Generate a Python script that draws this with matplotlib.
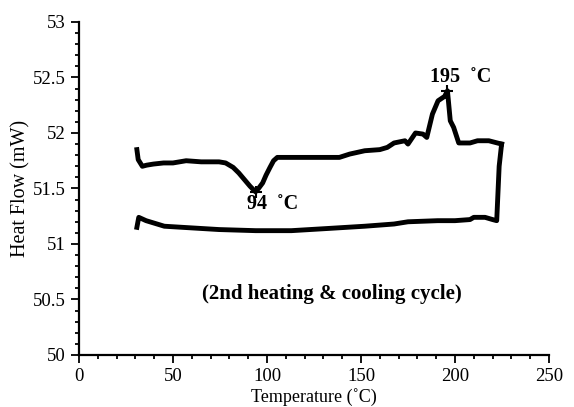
import matplotlib
matplotlib.use('Agg')
import matplotlib.pyplot as plt
from matplotlib.ticker import MultipleLocator

plt.rcParams['font.family'] = ['Liberation Serif', 'DejaVu Serif']

# ---- 2nd heating scan ----
heat_T = [30.8, 31.5, 33.7, 36.0, 39.6, 45.0, 50.0, 57.0, 65.0, 74.5, 78.0, 82.0,
          85.0, 88.0, 91.0, 93.9, 95.5, 97.7, 99.5, 101.6, 103.5, 105.5, 115.0,
          125.0, 138.5, 144.0, 152.0, 160.0, 164.0, 167.6, 173.4, 175.0, 179.0,
          183.0, 185.0, 188.0, 191.0, 194.5, 196.0, 197.5, 199.3, 202.0, 208.0,
          212.0, 218.0, 224.8]
heat_Q = [51.85, 51.76, 51.70, 51.71, 51.72, 51.73, 51.73, 51.75, 51.74, 51.74, 51.73, 51.69,
          51.64, 51.58, 51.52, 51.47, 51.50, 51.55, 51.62, 51.69, 51.75, 51.78, 51.78,
          51.78, 51.78, 51.81, 51.84, 51.85, 51.87, 51.91, 51.93, 51.90, 52.00,
          51.99, 51.96, 52.17, 52.29, 52.33, 52.38, 52.11, 52.05, 51.91, 51.91,
          51.93, 51.93, 51.90]

# ---- cooling scan ----
cool_T = [224.8, 223.5, 222.2, 220.0, 216.0, 210.0, 208.0, 200.0, 190.8, 175.0,
          167.6, 152.0, 132.7, 113.0, 94.0, 74.5, 55.0, 45.4, 35.7, 31.8, 30.8]
cool_Q = [51.90, 51.70, 51.21, 51.22, 51.24, 51.24, 51.22, 51.21, 51.21, 51.20,
          51.18, 51.16, 51.14, 51.12, 51.12, 51.13, 51.15, 51.16, 51.21, 51.24, 51.15]

peak_T = [94, 196]
peak_Q = [51.47, 52.38]
peak_labels = ['94  ˚C', '195  ˚C']

fig = plt.figure(figsize=(5.74, 4.07), dpi=100)
ax = fig.add_axes([0.1376, 0.1278, 0.8188, 0.8182])

ax.plot(heat_T, heat_Q, color='black', lw=3.5, solid_joinstyle='round')
ax.plot(cool_T, cool_Q, color='black', lw=3.5, solid_joinstyle='round')
ax.plot(peak_T, peak_Q, '+', color='black', ms=9, mew=1.5)

ax.text(103, 51.36, peak_labels[0], ha='center', va='center',
        fontsize=14.5, fontweight='bold')
ax.text(203, 52.50, peak_labels[1], ha='center', va='center',
        fontsize=14.5, fontweight='bold')
ax.text(134.5, 50.55, '(2nd heating & cooling cycle)', ha='center', va='center',
        fontsize=15, fontweight='bold')

ax.set_xlim(0, 250)
ax.set_ylim(50, 53)
ax.xaxis.set_major_locator(MultipleLocator(50))
ax.xaxis.set_minor_locator(MultipleLocator(10))
ax.yaxis.set_major_locator(MultipleLocator(0.5))
ax.yaxis.set_minor_locator(MultipleLocator(0.1))
ax.set_yticks([50, 50.5, 51, 51.5, 52, 52.5, 53])
ax.set_yticklabels(['50', '50.5', '51', '51.5', '52', '52.5', '53'])

for s in ['top', 'right']:
    ax.spines[s].set_visible(False)
for s in ['left', 'bottom']:
    ax.spines[s].set_linewidth(1.6)
ax.tick_params(which='major', direction='out', length=6, width=1.3, labelsize=13.5)
ax.tick_params(which='minor', direction='out', length=3, width=1.3)

ax.set_xlabel('Temperature (˚C)', fontsize=13, labelpad=2)
ax.set_ylabel('Heat Flow (mW)', fontsize=14.5, labelpad=2)

fig.savefig('out.png', dpi=100)
